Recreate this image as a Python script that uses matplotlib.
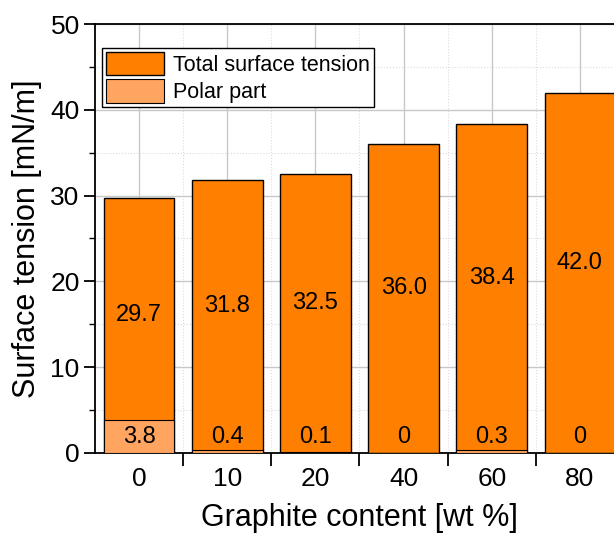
import numpy as np
import matplotlib
matplotlib.use('Agg')
import matplotlib.pyplot as plt
from matplotlib.ticker import MultipleLocator, FixedLocator

plt.rcParams['font.family'] = ['Liberation Sans', 'DejaVu Sans']

content = ['0', '10', '20', '40', '60', '80']
total = [29.7, 31.8, 32.5, 36.0, 38.4, 42.0]
polar = [3.8, 0.4, 0.1, 0, 0.3, 0]
total_labels = ['29.7', '31.8', '32.5', '36.0', '38.4', '42.0']
polar_labels = ['3.8', '0.4', '0.1', '0', '0.3', '0']

TOTAL_COLOR = '#ff8000'
POLAR_COLOR = '#ffa560'


def main() -> None:
	fig = plt.figure(figsize=(6.14, 5.36), dpi=100)
	ax = fig.add_axes([0.1547, 0.1549, 0.8616, 0.8003])

	x = np.arange(len(content))
	ax.bar(x, total, width=0.8, color=TOTAL_COLOR, edgecolor='black', linewidth=1,
		label='Total surface tension', zorder=3)
	ax.bar(x, polar, width=0.8, color=POLAR_COLOR, edgecolor='black', linewidth=0.8,
		label='Polar part', zorder=3)

	for xi, t, tl, pl in zip(x, total, total_labels, polar_labels):
		ax.text(xi, t / 2 + 1.2, tl, ha='center', va='center', fontsize=17, zorder=4)
		ax.text(xi, 1.9, pl, ha='center', va='center', fontsize=17, zorder=4)

	ax.set_xlim(-0.5, 5.5)
	ax.set_ylim(0, 50)

	ax.set_xticks(x)
	ax.set_xticklabels(content)
	ax.xaxis.set_minor_locator(FixedLocator(np.arange(0.5, 5.5, 1)))
	ax.yaxis.set_major_locator(MultipleLocator(10))
	ax.yaxis.set_minor_locator(MultipleLocator(5))

	ax.tick_params(axis='x', which='major', length=0, labelsize=19, pad=10)
	ax.tick_params(axis='x', which='minor', length=9, width=1.3, direction='out')
	ax.tick_params(axis='y', which='major', length=8, width=1.3, labelsize=19, direction='out', pad=3)
	ax.tick_params(axis='y', which='minor', length=4, width=1.0, direction='out')

	ax.grid(which='major', color='#c8c8c8', linewidth=1, linestyle='-', zorder=0)
	ax.grid(which='minor', color='#dcdcdc', linewidth=0.8, linestyle=':', zorder=0)
	ax.set_axisbelow(True)

	for side in ['left', 'bottom', 'top']:
		ax.spines[side].set_linewidth(1.3)
	ax.spines['right'].set_visible(False)

	ax.set_xlabel('Graphite content [wt %]', fontsize=22, labelpad=9)
	ax.set_ylabel('Surface tension [mN/m]', fontsize=22, labelpad=6)

	leg = ax.legend(loc='upper left', bbox_to_anchor=(0.005, 0.955), fontsize=15.5,
		frameon=True, fancybox=False, edgecolor='black', framealpha=1,
		handlelength=2.7, handleheight=1.3, handletextpad=0.4, borderpad=0.2,
		labelspacing=0.15, borderaxespad=0.2)
	leg.get_frame().set_linewidth(1)

	fig.savefig('out.png', dpi=100)


if __name__ == '__main__':
	main()
